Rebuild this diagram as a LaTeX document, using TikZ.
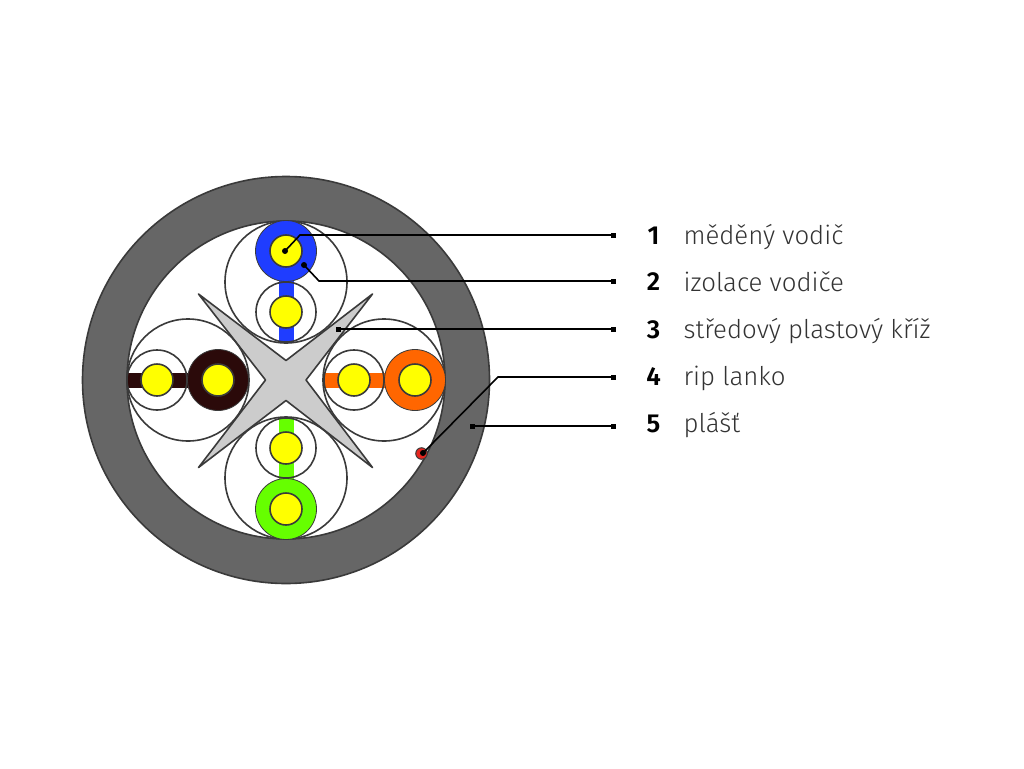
\documentclass[tikz,border=0pt]{standalone}
\usepackage{fontspec}
\setmainfont{Fira Sans Light}[BoldFont={Fira Sans SemiBold}]
\definecolor{strokeC}{HTML}{3A3A3A}
\definecolor{sheathC}{HTML}{666666}
\definecolor{crossC}{HTML}{CCCCCC}
\definecolor{blueC}{HTML}{1F3DFF}
\definecolor{orangeC}{HTML}{FF6600}
\definecolor{brownC}{HTML}{2B0A0A}
\definecolor{greenC}{HTML}{66FF00}
\definecolor{yellowC}{HTML}{FFFF00}
\definecolor{redC}{HTML}{E6261F}
\definecolor{textC}{HTML}{333333}
\tikzset{
  x=1pt,y=-1pt,
  ring/.style={circle,draw=strokeC,line width=1.6pt,inner sep=0pt,minimum size=#1,fill=none},
  wire/.style={circle,draw=strokeC,line width=1.6pt,inner sep=0pt,minimum size=#1,fill=yellowC},
  leader/.style={draw=black,line width=1.6pt},
  tick/.style={rectangle,fill=black,inner sep=0pt,minimum size=5pt},
  dot/.style={circle,fill=black,inner sep=0pt,minimum size=6pt},
  num/.style={anchor=base,font=\fontsize{26}{26}\selectfont\bfseries,text=black},
  lab/.style={anchor=base west,font=\fontsize{25.8}{26}\selectfont,text=textC},
}
\newcommand{\pairwire}[8]{%
  % #1 colour, #2 bar from, #3 bar to, #4 insulated centre, #5 bare centre, #6 insulation size, #7 wire size, #8 name
  \fill[#1] #2 rectangle #3;
  \node[ring=#6] (#8a) at #5 {};
  \node[circle,fill=#1,draw=strokeC,line width=0.8pt,inner sep=0pt,minimum size=#6+1pt] (#8b) at #4 {};
  \node[wire=#7] (#8c) at #4 {};
  \node[wire=#7] (#8d) at #5 {};
}
\begin{document}
\begin{tikzpicture}
\useasboundingbox (0,0) rectangle (1024,768);
\fill[white] (0,0) rectangle (1024,768);
% sheath
\path[fill=sheathC,even odd rule,draw=strokeC,line width=1.6pt]
  (286,380) circle[radius=203.5] (286,380) circle[radius=159];
% cross
\path[fill=crossC,draw=strokeC,line width=1.6pt,line join=round]
  (198.5,294) -- (286,360.5) -- (372.5,294) -- (306,380) -- (372.5,467.5) -- (286,400.5) -- (198.5,467.5) -- (265.5,380) -- cycle;
% sub-bundle circles
\node[ring=122pt] (topb) at (286,282) {};
\node[ring=122pt] (leftb) at (188,380) {};
\node[ring=122pt] (rightb) at (384,380) {};
\node[ring=122pt] (botb) at (286,478) {};
% wire pairs
\pairwire{blueC}{(278.5,281)}{(293.5,341)}{(286,251)}{(286,312)}{60pt}{32pt}{t}
\pairwire{brownC}{(128,372.5)}{(188,387.5)}{(218,380)}{(157,380)}{60pt}{32pt}{l}
\pairwire{orangeC}{(325,372.5)}{(385,387.5)}{(415,380)}{(354,380)}{60pt}{32pt}{r}
\pairwire{greenC}{(278.5,419)}{(293.5,479)}{(286,509)}{(286,448)}{60pt}{32pt}{b}
% rip cord
\node[circle,fill=redC,draw=strokeC,line width=1pt,inner sep=0pt,minimum size=11.5pt] (rip) at (421.5,453.5) {};
% leader ends
\node[dot] (s1) at (285,251) {};
\node[dot] (s2) at (304,265) {};
\node[tick] (s3) at (338,329) {};
\node[dot] (s4) at (423,453) {};
\node[tick] (s5) at (472,426) {};
\node[tick] (e1) at (613,235) {};
\node[tick] (e2) at (613,281) {};
\node[tick] (e3) at (613,329) {};
\node[tick] (e4) at (613,377) {};
\node[tick] (e5) at (613,426) {};
\coordinate (k1) at (300,235);
\coordinate (k2) at (319,281);
\coordinate (k4) at (498,377);
\draw[leader] (s1.center) -- (k1) -- (e1.center);
\draw[leader] (s2.center) -- (k2) -- (e2.center);
\draw[leader] (s3.center) -- (e3.center);
\draw[leader] (s4.center) -- (k4) -- (e4.center);
\draw[leader] (s5.center) -- (e5.center);
% labels
\node[num] (n1) at (653.5,244) {1};
\node[num] (n2) at (653.5,290) {2};
\node[num] (n3) at (653.5,338) {3};
\node[num] (n4) at (653.5,385) {4};
\node[num] (n5) at (653.5,432) {5};
\node[lab] (t1) at (680,244) {měděný vodič};
\node[lab] (t2) at (680,291) {izolace vodiče};
\node[lab] (t3) at (680,338) {středový plastový kříž};
\node[lab] (t4) at (680,385) {rip lanko};
\node[lab] (t5) at (680,432) {plášť};
\end{tikzpicture}
\end{document}
